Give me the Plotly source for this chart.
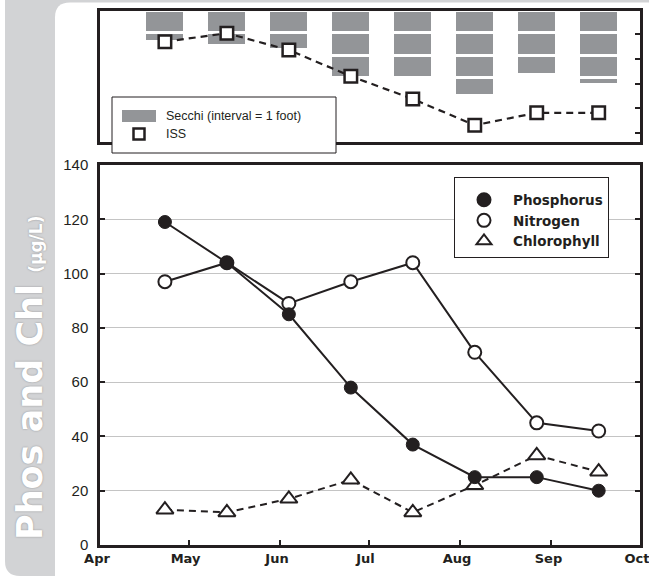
import plotly.graph_objects as go

# Sampling dates (three-week interval)
dates = ["2010-04-23", "2010-05-14", "2010-06-04", "2010-06-25",
         "2010-07-16", "2010-08-06", "2010-08-27", "2010-09-17"]

# Main panel concentrations (ug/L)
phosphorus = [119, 104, 85, 58, 37, 25, 25, 20]
nitrogen = [97, 104, 89, 97, 104, 71, 45, 42]
chlorophyll = [13, 12, 17, 24, 12, 22, 33, 27]

# Top panel: Secchi depth (feet) and ISS
secchi_ft = [1.40, 1.59, 1.77, 3.0, 3.0, 3.79, 2.85, 3.34]
iss = [23.5, 25.2, 21.8, 16.5, 11.9, 6.6, 9.1, 9.1]

month_range = ["2010-04-01", "2010-10-01"]

W, H = 649, 576
INK = "#231f20"
BAR = "#939598"
STRIP = "#d2d3d5"


def px(x):
    return x / W


def py(y):
    return 1 - y / H


fig = go.Figure()

# Secchi bars split into 1-foot segments (white outline makes the gaps)
n_seg = int(max(secchi_ft)) + 1
for k in range(n_seg):
    seg = []
    for d in secchi_ft:
        h = min(1.0, d - k)
        seg.append(h if h > 0 else None)
    fig.add_trace(go.Bar(
        x=dates, y=seg, xaxis="x2", yaxis="y2",
        width=13.5 * 86400000, marker=dict(color=BAR, line=dict(color="white", width=3)),
        showlegend=False, hoverinfo="skip",
    ))

# ISS line
fig.add_trace(go.Scatter(
    x=dates, y=iss, xaxis="x2", yaxis="y3", mode="lines+markers",
    line=dict(color=INK, width=2.2, dash="7px,5px"),
    marker=dict(symbol="square", size=12.5, color="white", line=dict(color=INK, width=2.5)),
    showlegend=False,
))

# Main panel series
fig.add_trace(go.Scatter(
    x=dates, y=chlorophyll, mode="lines+markers",
    line=dict(color=INK, width=2, dash="7px,5px"),
    marker=dict(symbol="triangle-up", size=15, color="white", line=dict(color=INK, width=2)),
    showlegend=False,
))
fig.add_trace(go.Scatter(
    x=dates, y=nitrogen, mode="lines+markers",
    line=dict(color=INK, width=2),
    marker=dict(symbol="circle", size=13, color="white", line=dict(color=INK, width=2)),
    showlegend=False,
))
fig.add_trace(go.Scatter(
    x=dates, y=phosphorus, mode="lines+markers",
    line=dict(color=INK, width=2),
    marker=dict(symbol="circle", size=13, color=INK, line=dict(color=INK, width=1)),
    showlegend=False,
))

# Legend entries (markers only)
for name, sym, fill in [("Phosphorus", "circle", INK),
                        ("Nitrogen", "circle", "white"),
                        ("Chlorophyll", "triangle-up", "white")]:
    fig.add_trace(go.Scatter(
        x=[None], y=[None], mode="markers", name=name,
        marker=dict(symbol=sym, size=13, color=fill, line=dict(color=INK, width=2)),
    ))

axis_common = dict(showline=True, linecolor=INK, linewidth=2.5, mirror=True,
                   zeroline=False, automargin=False)

shapes = [
    # grey frame: left strip and thin top band
    dict(type="path", xref="paper", yref="paper", layer="below",
         path=f"M {px(5)},{py(0)} L {px(649)},{py(0)} L {px(649)},{py(576)} "
              f"L {px(20)},{py(576)} Q {px(5)},{py(576)} {px(5)},{py(561)} Z",
         fillcolor=STRIP, line=dict(width=0)),
    # white panel with rounded corner
    dict(type="path", xref="paper", yref="paper", layer="below",
         path=f"M {px(70)},{py(2.5)} L {px(649)},{py(2.5)} L {px(649)},{py(576)} "
              f"L {px(55)},{py(576)} L {px(55)},{py(17.5)} Q {px(55)},{py(2.5)} {px(70)},{py(2.5)} Z",
         fillcolor="white", line=dict(width=0)),
    # top panel legend box
    dict(type="rect", xref="paper", yref="paper", layer="above",
         x0=px(112), x1=px(336), y0=py(153), y1=py(97),
         fillcolor="white", line=dict(color=INK, width=1)),
    dict(type="rect", xref="paper", yref="paper", layer="above",
         x0=px(122), x1=px(156), y0=py(122), y1=py(110),
         fillcolor=BAR, line=dict(width=0)),
    dict(type="rect", xref="paper", yref="paper", layer="above",
         x0=px(133.5), x1=px(144.5), y0=py(139.5), y1=py(128.5),
         fillcolor="white", line=dict(color=INK, width=2.5)),
]

annotations = [
    dict(xref="paper", yref="paper", x=px(164), y=py(116), xanchor="left", yanchor="middle",
         text="Secchi (interval = 1 foot)", showarrow=False,
         font=dict(family="Liberation Sans", size=12.5, color=INK)),
    dict(xref="paper", yref="paper", x=px(164), y=py(134), xanchor="left", yanchor="middle",
         text="ISS", showarrow=False,
         font=dict(family="Liberation Sans", size=12.5, color=INK)),
    dict(xref="paper", yref="paper", x=px(30), y=py(378), xanchor="center", yanchor="middle",
         textangle=-90, showarrow=False,
         text="<b>Phos and Chl</b> <span style='font-size:17px'><b>(µg/L)</b></span>",
         font=dict(family="DejaVu Sans", size=35, color="white",
                   shadow="0px 0px 2px #8a8b8d")),
]

fig.update_layout(
    width=W, height=H,
    margin=dict(l=0, r=0, t=0, b=0, autoexpand=False),
    paper_bgcolor="white", plot_bgcolor="rgba(0,0,0,0)",
    barmode="stack", bargap=0,
    showlegend=True,
    legend=dict(x=px(454), y=py(177), xanchor="left", yanchor="top",
                traceorder="normal",
                title=dict(text=" ", font=dict(size=5)),
                bgcolor="white", bordercolor=INK, borderwidth=1,
                itemwidth=48, tracegroupgap=0,
                font=dict(family="DejaVu Sans", size=13.5, color=INK, weight="bold")),
    xaxis=dict(domain=[px(100), px(640)], range=month_range, type="date",
               tickformat="%b", dtick="M1", tick0="2010-04-01",
               ticks="inside", ticklen=5, tickwidth=2, tickcolor=INK,
               ticklabeloverflow="allow", ticklabelshift=-3,
               tickfont=dict(family="DejaVu Sans", size=13, color=INK, weight="bold"),
               showgrid=False, anchor="y", **axis_common),
    yaxis=dict(domain=[py(545), py(165)], range=[0, 140], dtick=20,
               ticks="inside", ticklen=5, tickwidth=2, tickcolor=INK,
               tickfont=dict(family="Liberation Sans", size=15, color=INK),
               ticklabelstandoff=6,
               showgrid=True, gridcolor="#c4c4c4", gridwidth=1,
               anchor="x", **{**axis_common, "mirror": "ticks"}),
    xaxis2=dict(domain=[px(100), px(640)], range=month_range, type="date",
                showticklabels=False, ticks="", showgrid=False, anchor="y2",
                **axis_common),
    yaxis2=dict(domain=[py(142), py(11)], range=[(142 - 11) / 22.3, 0],
                showticklabels=False, ticks="", showgrid=False, anchor="x2",
                **axis_common),
    yaxis3=dict(domain=[py(142), py(11)], range=[3.2, 29.7], overlaying="y2",
                side="right", anchor="x2", dtick=5, tick0=0,
                ticks="inside", ticklen=5, tickwidth=2, tickcolor=INK,
                showticklabels=False, showgrid=False, zeroline=False, showline=False,
                automargin=False),
    shapes=shapes,
    annotations=annotations,
)

fig.write_html("out.html")
